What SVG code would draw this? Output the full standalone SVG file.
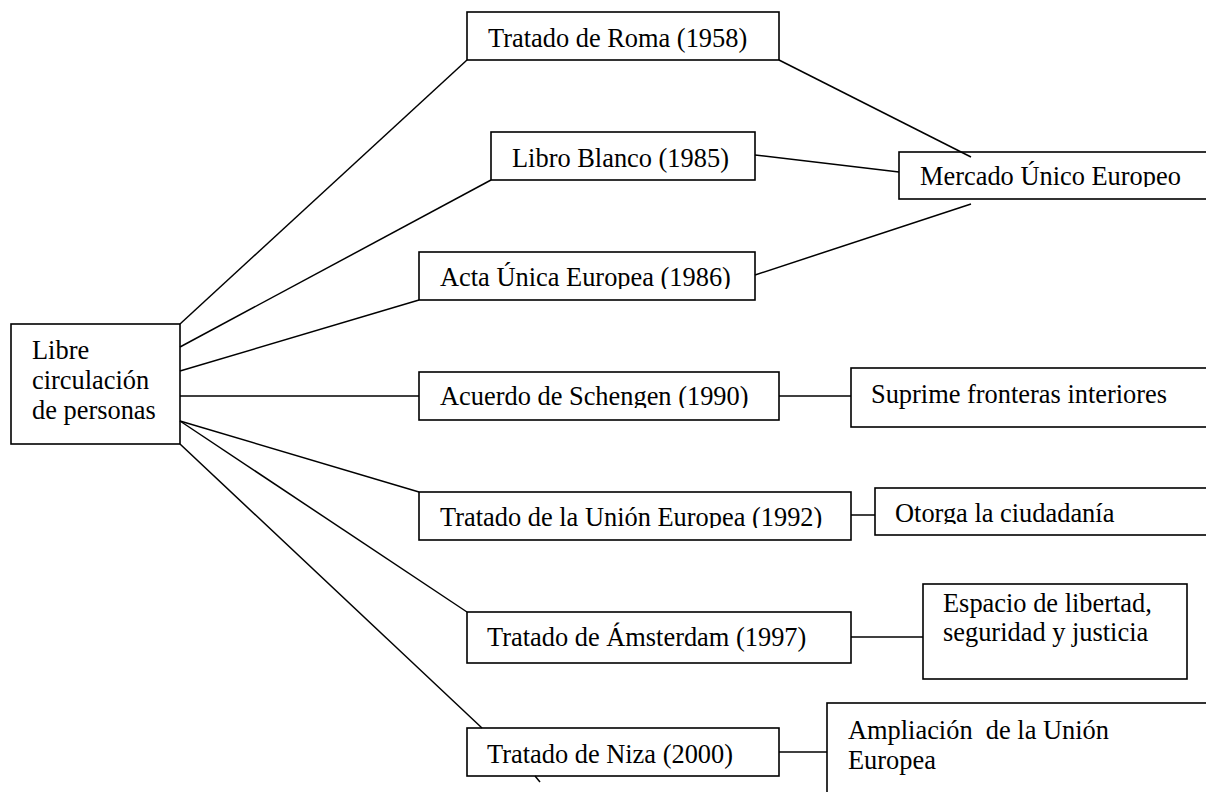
<svg xmlns="http://www.w3.org/2000/svg" width="1206" height="792" viewBox="0 0 1206 792">
<style>
.box{fill:#fff;stroke:#000;stroke-width:1.6}
.ln{fill:none;stroke:#000;stroke-width:1.5}
text{font-family:"Liberation Serif","Times New Roman",serif;font-size:26.4px;fill:#000}
</style>
<defs>
<clipPath id="cMercado"><rect x="899" y="150" width="320" height="37"/></clipPath>
<clipPath id="cActa"><rect x="419" y="250" width="340" height="39"/></clipPath>
<clipPath id="cSchengen"><rect x="419" y="370" width="362" height="38"/></clipPath>
<clipPath id="cUE"><rect x="419" y="490" width="434" height="38"/></clipPath>
<clipPath id="cOtorga"><rect x="875" y="486" width="340" height="38"/></clipPath>
</defs>
<rect width="1206" height="792" fill="#fff"/>
<g id="root">
<rect class="box" x="11" y="324" width="169" height="120"/>
<text x="32" y="359">Libre</text>
<text x="32" y="389">circulación</text>
<text x="32" y="419">de personas</text>
</g>
<g id="roma">
<rect class="box" x="467" y="12" width="312" height="48"/>
<text x="488" y="47">Tratado de Roma (1958)</text>
</g>
<g id="libro">
<rect class="box" x="491" y="132" width="264" height="48"/>
<text x="512" y="167">Libro Blanco (1985)</text>
</g>
<g id="acta">
<rect class="box" x="419" y="252" width="336" height="48"/>
<text x="440" y="286" clip-path="url(#cActa)">Acta Única Europea (1986)</text>
</g>
<g id="schengen">
<rect class="box" x="419" y="372" width="360" height="48"/>
<text x="440" y="405" clip-path="url(#cSchengen)">Acuerdo de Schengen (1990)</text>
</g>
<g id="ue">
<rect class="box" x="419" y="492" width="432" height="48"/>
<text x="440" y="526" clip-path="url(#cUE)">Tratado de la Unión Europea (1992)</text>
</g>
<g id="amsterdam">
<rect class="box" x="467" y="612" width="384" height="51"/>
<text x="487" y="646">Tratado de Ámsterdam (1997)</text>
</g>
<g id="niza">
<rect class="box" x="467" y="728" width="312" height="48"/>
<text x="487" y="763">Tratado de Niza (2000)</text>
</g>
<g id="mercado">
<rect class="box" x="899" y="152" width="320" height="47"/>
<text x="920" y="185" clip-path="url(#cMercado)">Mercado Único Europeo</text>
</g>
<g id="suprime">
<rect class="box" x="851" y="368" width="370" height="59"/>
<text x="871" y="403">Suprime fronteras interiores</text>
</g>
<g id="otorga">
<rect class="box" x="875" y="488" width="340" height="47"/>
<text x="895" y="522" clip-path="url(#cOtorga)">Otorga la ciudadanía</text>
</g>
<g id="espacio">
<rect class="box" x="923" y="584" width="264" height="95"/>
<text x="943" y="612">Espacio de libertad,</text>
<text x="943" y="641">seguridad y justicia</text>
</g>
<g id="ampliacion">
<rect class="box" x="827" y="703" width="400" height="100"/>
<text x="848" y="739" xml:space="preserve">Ampliación  de la Unión</text>
<text x="848" y="769">Europea</text>
</g>
<g id="connectors">
<line class="ln" x1="180" y1="324" x2="467" y2="60"/>
<line class="ln" x1="180" y1="347" x2="491" y2="180"/>
<line class="ln" x1="180" y1="371" x2="419" y2="300"/>
<line class="ln" x1="180" y1="396" x2="419" y2="396"/>
<line class="ln" x1="180" y1="421" x2="419" y2="492"/>
<line class="ln" x1="180" y1="421" x2="467" y2="612"/>
<line class="ln" x1="180" y1="444" x2="482" y2="728"/>
<line class="ln" x1="535" y1="776" x2="540" y2="782"/>
<line class="ln" x1="779" y1="60" x2="971" y2="157"/>
<line class="ln" x1="755" y1="155" x2="899" y2="172"/>
<line class="ln" x1="755" y1="275" x2="971" y2="204"/>
<line class="ln" x1="779" y1="396" x2="851" y2="396"/>
<line class="ln" x1="851" y1="515" x2="875" y2="515"/>
<line class="ln" x1="851" y1="637" x2="923" y2="637"/>
<line class="ln" x1="779" y1="752" x2="827" y2="752"/>
</g>
</svg>
